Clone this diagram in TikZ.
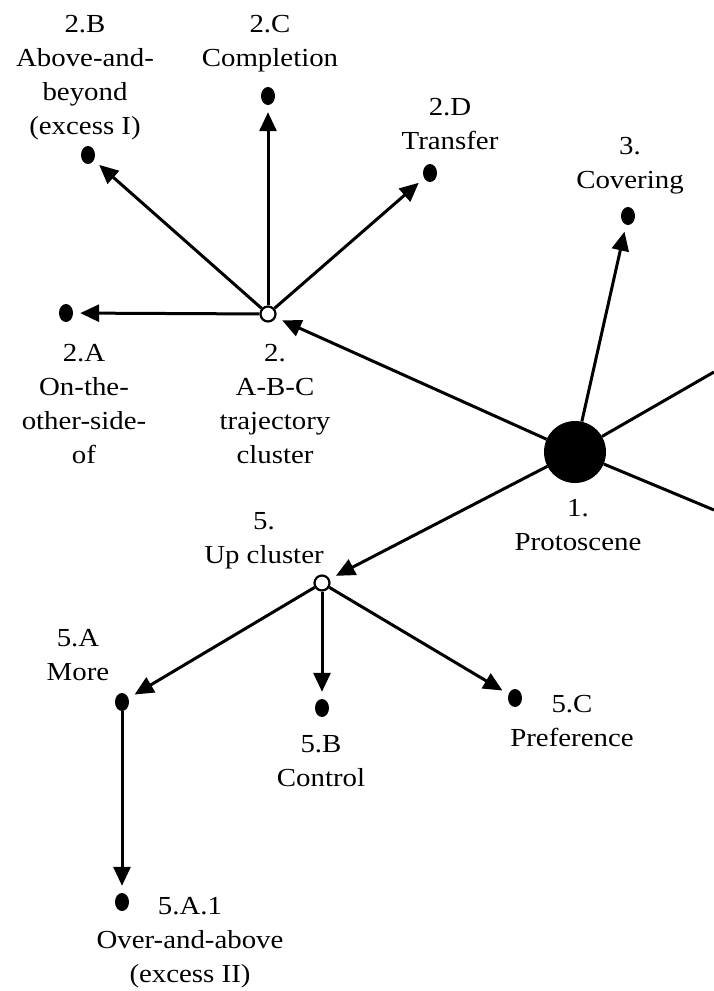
\documentclass[tikz,border=0pt]{standalone}
\usepackage{fontspec}
\setmainfont{Liberation Serif}[FakeStretch=1.11]
\usepackage{tikz}
\usetikzlibrary{arrows.meta,shapes.geometric}

\begin{document}
\begin{tikzpicture}[x=1pt, y=-1pt,
		dot/.style={ellipse, fill=black, minimum width=14pt, minimum height=18pt, inner sep=0},
		hub/.style={circle, draw, fill=white, line width=2.2pt, minimum size=15pt, inner sep=0},
		core/.style={circle, fill=black, minimum size=62pt, inner sep=0},
		lbl/.style={anchor=north, align=center, inner sep=0, font=\fontsize{26}{34}\selectfont},
		wire/.style={line width=3pt},
		link/.style={wire, -{Triangle[length=19pt,width=17pt]}, shorten >=7pt}]
	\useasboundingbox (0,0) rectangle (714,991);
	% centres
	\node[core] (n1) at (575,452) {};
	\node[hub] (n2) at (268,314) {};
	\node[hub] (n5) at (322,583) {};
	\node[dot] (d2A) at (66,313) {};
	\node[dot] (d2B) at (88,155) {};
	\node[dot] (d2C) at (268,96) {};
	\node[dot] (d2D) at (430,173) {};
	\node[dot] (d3) at (628,216) {};
	\node[dot] (d5A) at (122,702) {};
	\node[dot] (d5B) at (322,708) {};
	\node[dot] (d5C) at (515,698) {};
	\node[dot] (d5A1) at (122,902) {};
	\coordinate (e1) at (714,372);
	\coordinate (e2) at (714,510);
	% labels
	\node[lbl] (t1) at (578,499.4) {1.\\Protoscene};
	\node[lbl] (t2) at (275,344.4) {2.\\A-B-C\\trajectory\\cluster};
	\node[lbl] (t2A) at (84,344.4) {2.A\\On-the-\\other-side-\\of};
	\node[lbl] (t2B) at (85,15.4) {2.B\\Above-and-\\beyond\\(excess I)};
	\node[lbl] (t2C) at (270,15.4) {2.C\\Completion};
	\node[lbl] (t2D) at (450,98.4) {2.D\\Transfer};
	\node[lbl] (t3) at (630,137.4) {3.\\Covering};
	\node[lbl] (t5) at (264,512.4) {5.\\Up cluster};
	\node[lbl] (t5A) at (78,629.4) {5.A\\More};
	\node[lbl] (t5B) at (321,735.4) {5.B\\Control};
	\node[lbl] (t5C) at (572,695.4) {5.C\\Preference};
	\node[lbl] (t5A1) at (190,897.4) {5.A.1\\Over-and-above\\(excess II)};
	% connectors
	\draw[wire] (n1) -- (e1);
	\draw[wire] (n1) -- (e2);
	\draw[link] (n1) -- (n2);
	\draw[link] (n1) -- (d3);
	\draw[link] (n1) -- (n5);
	\draw[link] (n2) -- (d2A);
	\draw[link] (n2) -- (d2B);
	\draw[link] (n2) -- (d2C);
	\draw[link] (n2) -- (d2D);
	\draw[link] (n5) -- (d5A);
	\draw[link] (n5) -- (d5B);
	\draw[link] (n5) -- (d5C);
	\draw[link] (d5A) -- (d5A1);
\end{tikzpicture}
\end{document}
